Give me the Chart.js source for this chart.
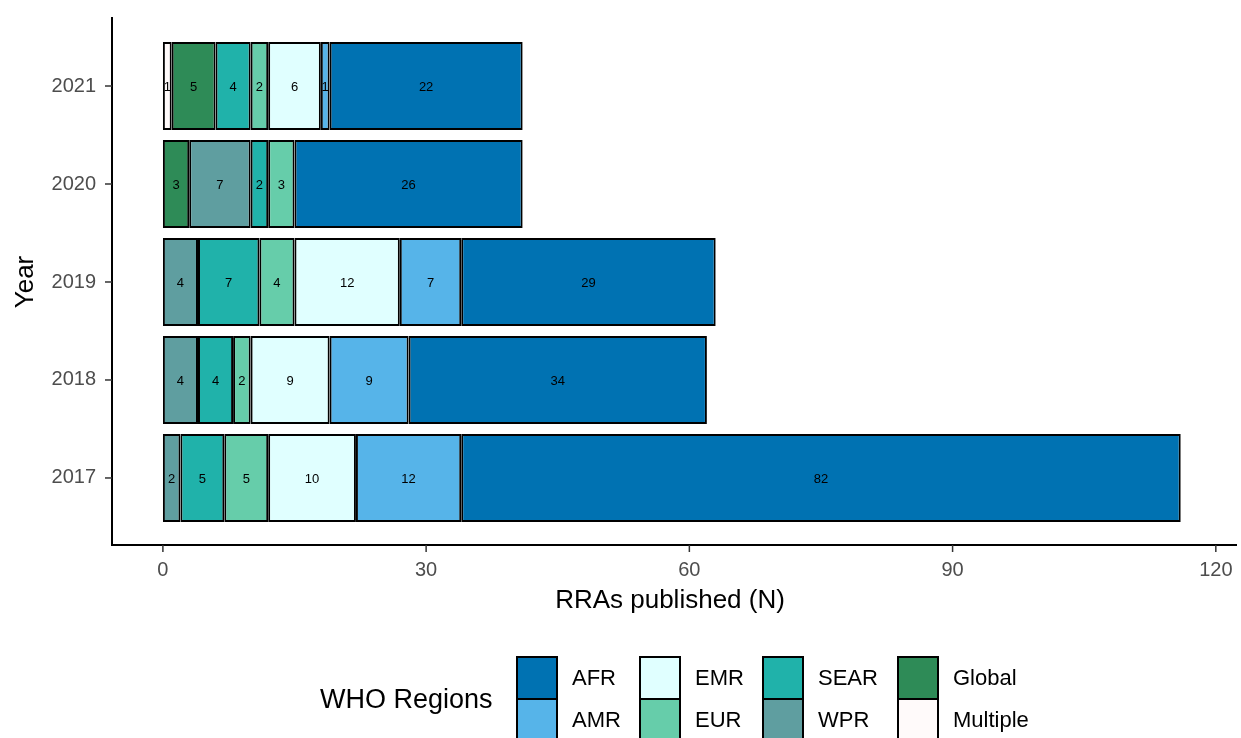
<!DOCTYPE html>
<html><head><meta charset="utf-8">
<script src="https://cdn.jsdelivr.net/npm/chart.js@4/dist/chart.umd.min.js"></script>
<style>html,body{margin:0;padding:0;background:#fff}#w{width:1241px;height:738px}</style>
</head><body><div id="w"><canvas id="c"></canvas></div>
<script>
const years = [2017, 2018, 2019, 2020, 2021];
const regions = ["Multiple","Global","WPR","SEAR","EUR","EMR","AMR","AFR"];
const multiple = [0,0,0,0,1];
const global   = [0,0,0,3,5];
const wpr      = [2,4,4,7,0];
const sear     = [5,4,7,2,4];
const eur      = [5,2,4,3,2];
const emr      = [10,9,12,0,6];
const amr      = [12,9,7,0,1];
const afr      = [82,34,29,26,22];
const xTicks = [0,30,60,90,120];
const colors = {AFR:"#0072B2",AMR:"#56B4E9",EMR:"#E0FFFF",EUR:"#66CDAA",SEAR:"#20B2AA",WPR:"#5F9EA0",Global:"#2E8B57",Multiple:"#FFFAFA"};
const series = {Multiple:multiple,Global:global,WPR:wpr,SEAR:sear,EUR:eur,EMR:emr,AMR:amr,AFR:afr};
const legendOrder = [["AFR","AMR"],["EMR","EUR"],["SEAR","WPR"],["Global","Multiple"]];
const FONT = "'Liberation Sans', Arial, sans-serif";

const datasets = regions.map(r => ({
  label: r,
  data: years.map((y,i) => ({x: series[r][i] || null, y: y})),
  backgroundColor: colors[r], borderColor: "#000", borderWidth: 2, borderSkipped: false,
  categoryPercentage: 1, barPercentage: 0.9
}));

const labelPlugin = {
  id: 'lbl',
  afterDatasetsDraw(chart) {
    const ctx = chart.ctx;
    const xs = chart.scales.x, ys = chart.scales.y, ca = chart.chartArea;
    ctx.save();
    ctx.font = "13px " + FONT; ctx.fillStyle = "#000";
    ctx.textAlign = "center"; ctx.textBaseline = "middle";
    chart.data.datasets.forEach((ds, di) => {
      chart.getDatasetMeta(di).data.forEach((el, i) => {
        const v = ds.data[i].x;
        if (!v) return;
        ctx.fillText(String(v), (el.x + el.base) / 2, el.y + 1);
      });
    });
    ctx.strokeStyle = "#333"; ctx.lineWidth = 1.5;
    xTicks.forEach(v => { const p = xs.getPixelForValue(v); ctx.beginPath(); ctx.moveTo(p, ca.bottom); ctx.lineTo(p, ca.bottom + 7); ctx.stroke(); });
    years.forEach(v => { const p = ys.getPixelForValue(v); ctx.beginPath(); ctx.moveTo(ca.left - 7, p); ctx.lineTo(ca.left, p); ctx.stroke(); });
    ctx.font = "26px " + FONT;
    ctx.fillText("RRAs published (N)", 670, 601);
    ctx.save(); ctx.translate(26, 282); ctx.rotate(-Math.PI/2); ctx.fillText("Year", 0, 0); ctx.restore();
    ctx.font = "27px " + FONT; ctx.textAlign = "left";
    ctx.fillText("WHO Regions", 320, 701);
    ctx.font = "22px " + FONT;
    const colX = [517, 640, 763, 898];
    legendOrder.forEach((col, ci) => {
      col.forEach((r, ri) => {
        const y = 657 + ri * 42;
        ctx.fillStyle = colors[r]; ctx.fillRect(colX[ci], y, 40, 42);
        ctx.strokeStyle = "#000"; ctx.lineWidth = 2; ctx.strokeRect(colX[ci], y, 40, 42);
        ctx.fillStyle = "#000";
        ctx.fillText(r, colX[ci] + 55, y + 22);
      });
    });
    ctx.restore();
  }
};

new Chart(document.getElementById('c'), {
  type: 'bar',
  data: { datasets },
  options: {
    indexAxis: 'y', responsive: true, maintainAspectRatio: false, animation: false,
    layout: { padding: { left: 0, right: 5, top: 18, bottom: 130 } },
    plugins: { legend: { display: false }, tooltip: { enabled: false } },
    scales: {
      x: {
        type: 'linear', stacked: true, min: -5.8, max: 122.3,
        afterBuildTicks(s) { s.ticks = xTicks.map(v => ({value: v})); },
        afterFit(s) { s.height = 63; s.paddingLeft = 0; s.paddingRight = 0; },
        grid: { display: false },
        border: { display: true, color: "#000", width: 2 },
        ticks: { color: "#4d4d4d", font: { size: 20, family: FONT }, padding: 5 }
      },
      y: {
        type: 'linear', stacked: true, offset: false, min: 2016.316, max: 2021.694,
        afterBuildTicks(s) { s.ticks = years.map(v => ({value: v})); },
        afterFit(s) { s.width = 112; s.paddingTop = 0; s.paddingBottom = 0; },
        grid: { display: false },
        border: { display: true, color: "#000", width: 2 },
        ticks: { color: "#4d4d4d", font: { size: 20, family: FONT }, padding: 8, callback: v => String(v) }
      }
    }
  },
  plugins: [labelPlugin]
});
</script></body></html>
